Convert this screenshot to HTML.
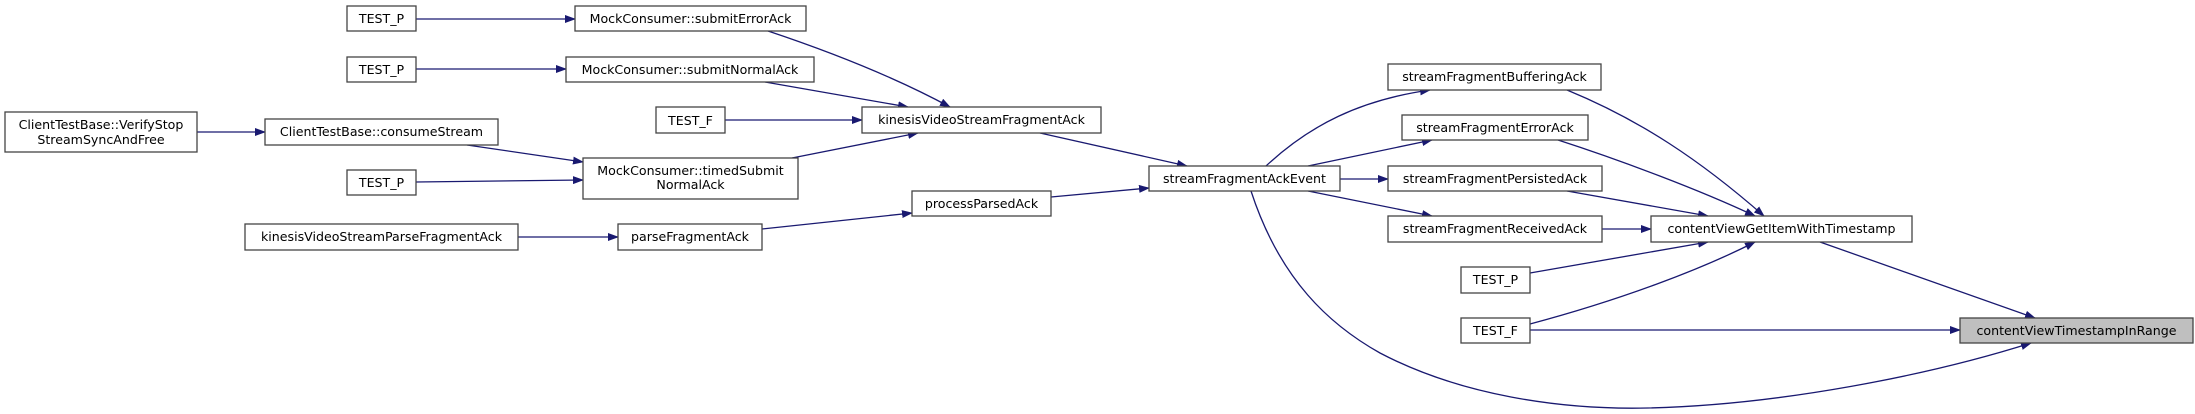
<!DOCTYPE html>
<html><head><meta charset="utf-8"><style>
html,body{margin:0;padding:0;background:#fff}
svg{display:block}
text{font-family:"DejaVu Sans","Liberation Sans",sans-serif;font-size:12.6px;fill:#000}
</style></head><body>
<svg width="2195" height="414" viewBox="0 0 2195 414" xmlns="http://www.w3.org/2000/svg">
<defs>
<marker id="a" markerWidth="11" markerHeight="8" refX="10" refY="4" orient="auto" markerUnits="userSpaceOnUse">
<path d="M0,0 L11,4 L0,8 Z" fill="#191970"/>
</marker>
</defs>
<g fill="none" stroke="#191970" stroke-width="1.3" marker-end="url(#a)">
<path d="M416,19 L575,19"/>
<path d="M416,69 L566,69"/>
<path d="M768,31 C840,55 900,80 950,107"/>
<path d="M765,82 L908,107"/>
<path d="M725,120 L862,120"/>
<path d="M792,158 L918,133"/>
<path d="M467,145 L583,162"/>
<path d="M416,182 L583,180"/>
<path d="M197,132 L265,132"/>
<path d="M518,237 L618,237"/>
<path d="M762,229 L912,213"/>
<path d="M1051,197 L1149,188"/>
<path d="M1040,133 L1187,166"/>
<path d="M1266,166 C1310,125 1360,100 1430,90"/>
<path d="M1308,166 L1432,140"/>
<path d="M1340,179 L1388,179"/>
<path d="M1308,191 L1432,216"/>
<path d="M1251,191 C1280,280 1330,325 1380,353 C1460,395 1560,410 1648,408 C1780,405 1930,375 2031,343"/>
<path d="M1567,90 C1640,120 1700,160 1764,216"/>
<path d="M1558,140 C1620,160 1700,190 1755,216"/>
<path d="M1567,191 L1708,216"/>
<path d="M1602,229 L1651,229"/>
<path d="M1530,273 L1708,242"/>
<path d="M1530,324 C1620,300 1700,270 1755,242"/>
<path d="M1530,330 L1960,330"/>
<path d="M1820,242 L2035,318"/>
</g>
<g stroke="#444" stroke-width="1.3" fill="#fff">
<rect x="347" y="6" width="69" height="25"/>
<rect x="575" y="6" width="231" height="25"/>
<rect x="347" y="57" width="69" height="25"/>
<rect x="566" y="57" width="248" height="25"/>
<rect x="656" y="107" width="69" height="26"/>
<rect x="5" y="112" width="192" height="40"/>
<rect x="265" y="119" width="233" height="26"/>
<rect x="583" y="158" width="215" height="41"/>
<rect x="347" y="170" width="69" height="25"/>
<rect x="245" y="224" width="273" height="26"/>
<rect x="618" y="224" width="144" height="26"/>
<rect x="862" y="107" width="239" height="26"/>
<rect x="912" y="191" width="139" height="25"/>
<rect x="1149" y="166" width="191" height="25"/>
<rect x="1388" y="64" width="213" height="26"/>
<rect x="1402" y="115" width="186" height="25"/>
<rect x="1388" y="166" width="214" height="25"/>
<rect x="1388" y="216" width="214" height="26"/>
<rect x="1461" y="267" width="69" height="26"/>
<rect x="1461" y="318" width="69" height="25"/>
<rect x="1651" y="216" width="261" height="26"/>
<rect x="1960" y="318" width="233" height="25" fill="#bfbfbf"/>
</g>
<g text-anchor="middle">
<text x="381.5" y="23">TEST_P</text>
<text x="690.5" y="23">MockConsumer::submitErrorAck</text>
<text x="381.5" y="74">TEST_P</text>
<text x="690" y="74">MockConsumer::submitNormalAck</text>
<text x="690.5" y="125">TEST_F</text>
<text x="101" y="129">ClientTestBase::VerifyStop</text>
<text x="101" y="144">StreamSyncAndFree</text>
<text x="381.5" y="136">ClientTestBase::consumeStream</text>
<text x="690.5" y="175">MockConsumer::timedSubmit</text>
<text x="690.5" y="189">NormalAck</text>
<text x="381.5" y="187">TEST_P</text>
<text x="381.5" y="241">kinesisVideoStreamParseFragmentAck</text>
<text x="690" y="241">parseFragmentAck</text>
<text x="981.5" y="124">kinesisVideoStreamFragmentAck</text>
<text x="981.5" y="208">processParsedAck</text>
<text x="1244.5" y="183">streamFragmentAckEvent</text>
<text x="1494.5" y="81">streamFragmentBufferingAck</text>
<text x="1495" y="132">streamFragmentErrorAck</text>
<text x="1495" y="183">streamFragmentPersistedAck</text>
<text x="1495" y="233">streamFragmentReceivedAck</text>
<text x="1495.5" y="284">TEST_P</text>
<text x="1495.5" y="335">TEST_F</text>
<text x="1781.5" y="233">contentViewGetItemWithTimestamp</text>
<text x="2076.5" y="335">contentViewTimestampInRange</text>
</g>
</svg>
</body></html>
